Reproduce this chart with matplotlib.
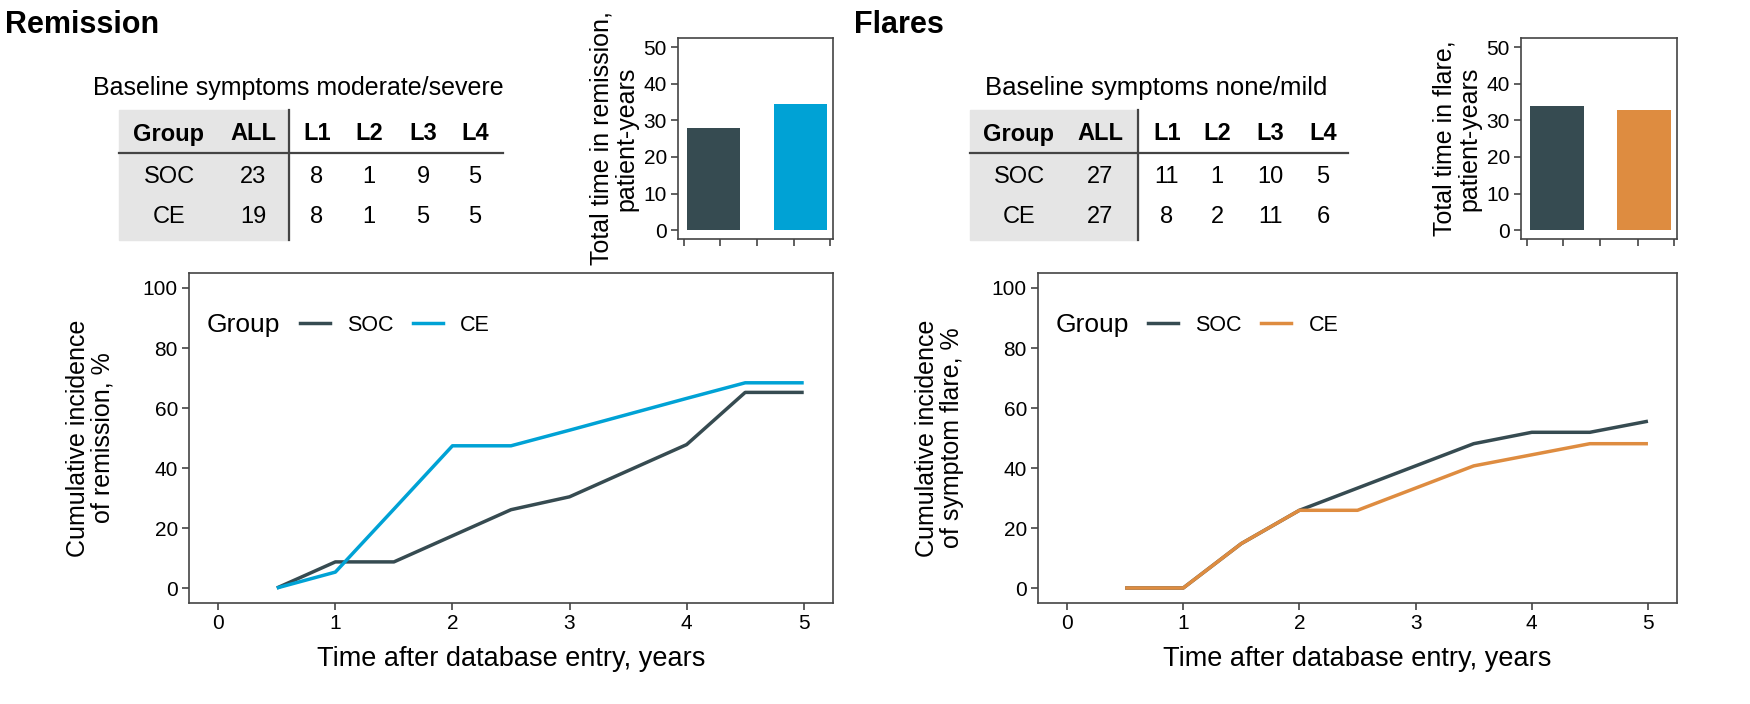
import matplotlib
matplotlib.use("Agg")
import matplotlib.pyplot as plt
from matplotlib.patches import Rectangle
from matplotlib.lines import Line2D

plt.rcParams['font.family'] = ['Liberation Sans', 'DejaVu Sans']

# ---- data ----
years = [0.5, 1, 1.5, 2, 2.5, 3, 3.5, 4, 4.5, 5]
rem_soc = [0, 8.7, 8.7, 17.4, 26.1, 30.4, 39.1, 47.8, 65.2, 65.2]
rem_ce = [0, 5.3, 26.3, 47.4, 47.4, 52.6, 57.9, 63.2, 68.4, 68.4]
flare_soc = [0, 0, 14.8, 25.9, 33.3, 40.7, 48.1, 51.9, 51.9, 55.6]
flare_ce = [0, 0, 14.8, 25.9, 25.9, 33.3, 40.7, 44.4, 48.1, 48.1]

groups = ['SOC', 'CE']
rem_time = [27.8, 34.5]
flare_time = [33.9, 32.9]

table_cols = ['Group', 'ALL', 'L1', 'L2', 'L3', 'L4']
rem_n_soc = [23, 8, 1, 9, 5]
rem_n_ce = [19, 8, 1, 5, 5]
flare_n_soc = [27, 11, 1, 10, 5]
flare_n_ce = [27, 8, 2, 11, 6]

c_soc = '#364b51'
c_ce = '#00a2d5'
c_flare = '#de8c40'
frame = '#444444'

W, H = 1750, 704
fig = plt.figure(figsize=(17.5, 7.04), dpi=100)


def fx(px):
    return px / W


def fy(py):
    return 1 - py / H


def style_axes(ax):
    for s in ax.spines.values():
        s.set_color(frame)
        s.set_linewidth(1.2)
    ax.tick_params(direction='out', length=5, width=1.2, color=frame,
                   labelsize=15, labelcolor='black', pad=3)


def line_plot(rect, soc, ce, ce_color, ylabel):
    ax = fig.add_axes(rect)
    ax.plot(years, soc, color=c_soc, lw=2.5, solid_capstyle='butt')
    ax.plot(years, ce, color=ce_color, lw=2.5, solid_capstyle='butt')
    ax.set_xlim(-0.25, 5.25)
    ax.set_ylim(-5, 105)
    ax.set_xticks(range(6))
    ax.set_yticks([0, 20, 40, 60, 80, 100])
    style_axes(ax)
    ax.set_xlabel('Time after database entry, years', fontsize=19.5, labelpad=9)
    ax.set_ylabel(ylabel, fontsize=18, labelpad=20, linespacing=1.05)
    ax.text(0.028, 0.842, 'Group', transform=ax.transAxes, fontsize=19,
            va='center', ha='left')
    h1 = Line2D([], [], color=c_soc, lw=2.5)
    h2 = Line2D([], [], color=ce_color, lw=2.5)
    ax.legend([h1, h2], groups, ncol=2, frameon=False, loc='center left',
              bbox_to_anchor=(0.172, 0.842), borderpad=0, borderaxespad=0,
              fontsize=15.5, handlelength=1.4, handletextpad=0.8,
              columnspacing=0.9)
    return ax


def bar_plot(rect, vals, ce_color, ylabel):
    ax = fig.add_axes(rect)
    ax.bar([0, 1], vals, width=0.62, color=[c_soc, ce_color])
    ax.set_xlim(-0.408, 1.374)
    ax.set_ylim(-2.4, 52.5)
    ax.set_yticks([0, 10, 20, 30, 40, 50])
    ax.set_xticks([-0.337, 0.073, 0.5, 0.929, 1.338])
    ax.set_xticklabels([])
    style_axes(ax)
    ax.set_ylabel(ylabel, fontsize=18, labelpad=4, linespacing=1.05)
    return ax


def draw_table(left, gray_right, right, col_x, soc_row, ce_row):
    fig.patches.append(Rectangle((fx(left), fy(240)), fx(gray_right) - fx(left),
                                 fy(110) - fy(240), transform=fig.transFigure,
                                 color='#e5e5e5', zorder=0))
    fig.add_artist(Line2D([fx(left), fx(right)], [fy(153), fy(153)],
                          color=frame, lw=1.6))
    fig.add_artist(Line2D([fx(gray_right), fx(gray_right)], [fy(110), fy(240)],
                          color=frame, lw=1.6))
    for x, name in zip(col_x, table_cols):
        fig.text(fx(x), fy(134), name, fontsize=17, fontweight='bold',
                 ha='center', va='center')
    for y, label, row in [(177, 'SOC', soc_row), (217, 'CE', ce_row)]:
        fig.text(fx(col_x[0]), fy(y), label, fontsize=17, ha='center', va='center')
        for x, v in zip(col_x[1:], row):
            fig.text(fx(x), fy(y), str(v), fontsize=17, ha='center', va='center')


# ---- Remission ----
fig.text(fx(5), fy(25), 'Remission', fontsize=22, fontweight='bold',
         ha='left', va='center')
fig.text(fx(298), fy(88), 'Baseline symptoms moderate/severe', fontsize=18,
         ha='center', va='center')
draw_table(119, 289, 503, [169, 253, 317, 369, 423, 475], rem_n_soc, rem_n_ce)
bar_plot([fx(678), fy(239), fx(833) - fx(678), fy(38) - fy(239)], rem_time, c_ce,
         'Total time in remission,\npatient-years')
line_plot([fx(189), fy(603), fx(833) - fx(189), fy(273) - fy(603)],
          rem_soc, rem_ce, c_ce, 'Cumulative incidence\nof remission, %')

# ---- Flares ----
fig.text(fx(854), fy(25), 'Flares', fontsize=22, fontweight='bold',
         ha='left', va='center')
fig.text(fx(1156), fy(88), 'Baseline symptoms none/mild', fontsize=18.5,
         ha='center', va='center')
draw_table(970, 1138, 1348, [1019, 1100, 1167, 1217, 1270, 1323],
           flare_n_soc, flare_n_ce)
bar_plot([fx(1521), fy(239), fx(1677) - fx(1521), fy(38) - fy(239)], flare_time,
         c_flare, 'Total time in flare,\npatient-years')
line_plot([fx(1038), fy(603), fx(1677) - fx(1038), fy(273) - fy(603)],
          flare_soc, flare_ce, c_flare, 'Cumulative incidence\nof symptom flare, %')

fig.savefig('out.png', dpi=100)
